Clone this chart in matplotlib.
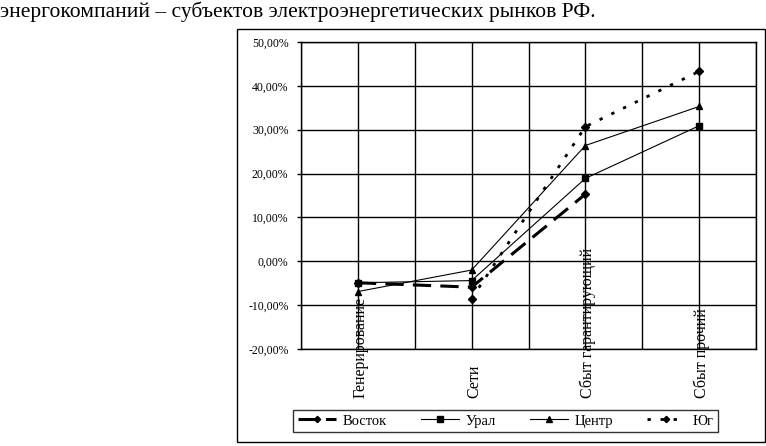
import numpy as np
import matplotlib
matplotlib.use("Agg")
import matplotlib.pyplot as plt
from matplotlib.patches import Rectangle
from matplotlib.ticker import FuncFormatter, MultipleLocator

plt.rcParams['font.family'] = ['Liberation Serif', 'DejaVu Serif']

categories = ["Генерирование", "Сети", "Сбыт гарантирующий", "Сбыт прочий"]
vostok = [-4.9, -5.9, 15.3, np.nan]
ural = [-4.9, -4.4, 18.9, 30.9]
centr = [-6.9, -2.0, 26.4, 35.3]
yug = [np.nan, -8.5, 30.7, 43.3]
title = "энергокомпаний – субъектов электроэнергетических рынков РФ."

W, H = 766, 446
fig = plt.figure(figsize=(W / 100, H / 100), dpi=100)
ax = fig.add_axes([301 / W, 1 - 349 / H, (756 - 301) / W, (349 - 42) / H])

x = np.arange(1, len(categories) + 1)

ax.plot(x, vostok, color='black', lw=2.2, dashes=(6, 3), marker='D', ms=4,
        label='Восток')
ax.plot(x, ural, color='black', lw=0.8, marker='s', ms=5, label='Урал')
ax.plot(x, centr, color='black', lw=0.8, marker='^', ms=5, label='Центр')
ax.plot(x, yug, color='black', lw=2.0, dashes=(1.2, 3.5), marker='D', ms=4,
        label='Юг')

ax.set_xlim(0.5, 4.5)
ax.set_ylim(-20, 50)
ax.yaxis.set_major_locator(MultipleLocator(10))
ax.xaxis.set_major_locator(MultipleLocator(0.5))
ax.yaxis.set_major_formatter(FuncFormatter(lambda v, p: f"{v:.2f}".replace('.', ',') + "%"))
ax.xaxis.set_major_formatter(FuncFormatter(lambda v, p: ""))
ax.grid(True, color='black', lw=1.0)
ax.set_axisbelow(True)
ax.tick_params(axis='y', length=3, width=1, direction='out', labelsize=8.5, pad=6)
ax.tick_params(axis='x', length=0)
for s in ax.spines.values():
    s.set_color('black')
    s.set_linewidth(1.0)

trans = ax.get_xaxis_transform()
for xi, c in zip(x, categories):
    ax.text(xi + 0.02, -0.16, c, rotation=90, ha='center', va='bottom',
            fontsize=11.5, transform=trans, clip_on=False)

leg = fig.legend(loc='center', bbox_to_anchor=(505.5 / W, 1 - 421 / H), ncol=4,
                 fontsize=10.5, frameon=True, fancybox=False, edgecolor='black',
                 handlelength=2.6, columnspacing=2.3, borderpad=0.3, handletextpad=0.5,
                 markerscale=0.8)
leg.get_frame().set_linewidth(1.0)

fig.patches.append(Rectangle((237 / W, 1 - 442 / H), (765 - 237) / W, (442 - 29) / H,
                             transform=fig.transFigure, fill=False, ec='black', lw=1.0))

fig.text(0.0, 1 - 1 / H, title, ha='left', va='top', fontsize=15.5)

fig.savefig("out.png", dpi=100)
